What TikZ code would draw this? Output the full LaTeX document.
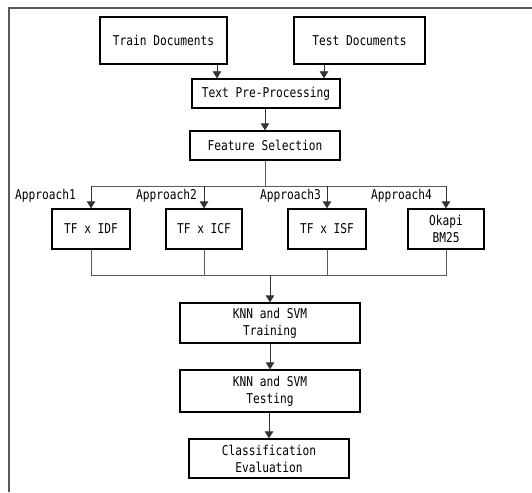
\documentclass[tikz,border=0pt]{standalone}
\usepackage{fontspec}
\setmonofont[FakeStretch=0.83]{DejaVu Sans Mono}
\usetikzlibrary{arrows.meta,positioning,calc}

\begin{document}
\begin{tikzpicture}[
  x=1pt, y=-1pt,
  font=\ttfamily\fontsize{13.5}{17}\selectfont,
  box/.style={draw=black, fill=white, line width=1.3pt, align=center, inner sep=0pt, minimum height=29pt},
  arrow/.style={-{Triangle[length=7pt,width=8.5pt]}, draw=black!80, line width=0.8pt},
  link/.style={draw=black!65, line width=0.8pt},
  lbl/.style={anchor=east, inner sep=0pt}
]
\useasboundingbox (0,0) rectangle (532,492);
\draw[line width=1.3pt, black!65] (9,492) -- (9,8) -- (532,8);
\node[box, minimum width=127pt, minimum height=47pt] (train) at (163.5,40.5) {Train Documents};
\node[box, minimum width=131pt, minimum height=47pt] (test) at (359.5,40.5) {Test Documents};
\node[box, minimum width=148pt] (prep) at (266,93.5) {Text Pre-Processing};
\node[box, minimum width=150pt] (feat) at (265,145.5) {Feature Selection};
\node[box, minimum width=78pt, minimum height=40pt] (idf) at (91,229) {TF x IDF};
\node[box, minimum width=76pt, minimum height=40pt] (icf) at (204,229) {TF x ICF};
\node[box, minimum width=78pt, minimum height=40pt] (isf) at (327,229) {TF x ISF};
\node[box, minimum width=76pt, minimum height=40pt] (okapi) at (446,229) {Okapi\\BM25};
\node[lbl] (app1) at (76,196) {Approach1};
\node[lbl] (app2) at (197,196) {Approach2};
\node[lbl] (app3) at (321,196) {Approach3};
\node[lbl] (app4) at (432,196) {Approach4};
\node[box, minimum width=180pt, minimum height=40pt] (knntrain) at (270,323) {KNN and SVM\\Training};
\node[box, minimum width=180pt, minimum height=42pt] (knntest) at (270,391) {KNN and SVM\\Testing};
\node[box, minimum width=160pt, minimum height=39pt] (evalbox) at (269,458.5) {Classification\\Evaluation};
\coordinate (split) at (267,186);
\coordinate (merge) at (266,275);
% documents into pre-processing
\draw[arrow] ([xshift=53.5pt]train.south) -- ([xshift=53.5pt]train.south |- prep.north);
\draw[arrow] ([xshift=-35.5pt]test.south) -- ([xshift=-35.5pt]test.south |- prep.north);
\draw[arrow] (prep.south -| feat.south) -- (feat.north);
% fan out to the four approaches
\draw[link] (feat.south) -- (feat.south |- split);
\draw[link] (idf.north |- split) -- (okapi.north |- split);
\foreach \n in {idf,icf,isf,okapi}
  \draw[arrow] (\n.north |- split) -- (\n.north);
% merge into training
\draw[link] (idf.south) -- (idf.south |- merge) -- (okapi.south |- merge) -- (okapi.south);
\foreach \n in {icf,isf}
  \draw[link] (\n.south) -- (\n.south |- merge);
\draw[arrow] (knntrain.north |- merge) -- (knntrain.north);
\draw[arrow] (knntrain.south) -- (knntest.north);
\draw[arrow] (knntest.south -| evalbox.north) -- (evalbox.north);
\end{tikzpicture}
\end{document}
